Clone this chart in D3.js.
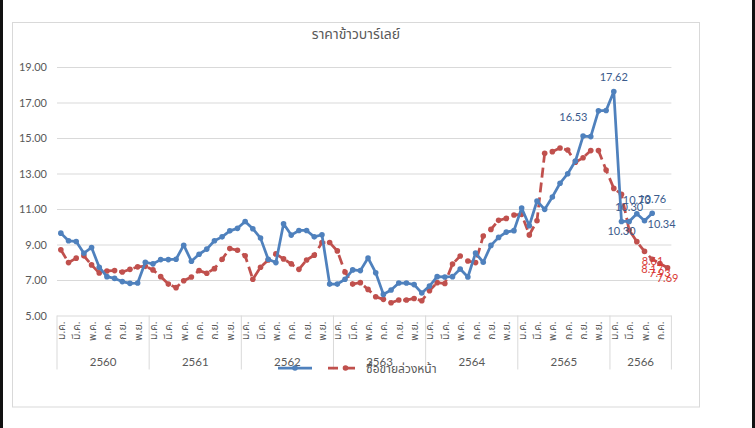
<!DOCTYPE html>
<html>
<head>
<meta charset="utf-8">
<script src="https://cdn.jsdelivr.net/npm/d3@7"></script>
<style>
  html, body { margin: 0; padding: 0; background: #fff; }
  svg { display: block; }
  .thai { font-family: "Noto Sans Thai", "Noto Sans Thai UI", "Leelawadee UI", Tahoma, "DejaVu Sans", sans-serif; }
  .num { font-family: Lato, "Open Sans", sans-serif; }
</style>
</head>
<body>
<div id="chart"></div>
<script>
// ราคาข้าวบาร์เลย์: ราคาจริง (เส้นน้ำเงิน) กับราคาซื้อขายล่วงหน้า (เส้นประแดง)
const years = ["2560", "2561", "2562", "2563", "2564", "2565", "2566"];
const monthsPerYear = [12, 12, 12, 12, 12, 12, 8];
const monthNames = ["ม.ค.", "ก.พ.", "มี.ค.", "เม.ย.", "พ.ค.", "มิ.ย.", "ก.ค.", "ส.ค.", "ก.ย.", "ต.ค.", "พ.ย.", "ธ.ค."];
const yTicks = [5, 7, 9, 11, 13, 15, 17, 19];

const spotPrice = [
  9.64, 9.21, 9.17, 8.51, 8.83, 7.72, 7.19, 7.09, 6.91, 6.81, 6.83, 8.00,
  7.91, 8.15, 8.15, 8.17, 8.96, 8.06, 8.45, 8.74, 9.21, 9.43, 9.77, 9.91,
  10.30, 9.89, 9.36, 8.17, 7.98, 10.17, 9.53, 9.79, 9.79, 9.43, 9.55, 6.77,
  6.77, 7.04, 7.57, 7.53, 8.24, 7.41, 6.19, 6.44, 6.83, 6.83, 6.74, 6.27,
  6.66, 7.19, 7.17, 7.19, 7.62, 7.17, 8.52, 8.00, 8.95, 9.40, 9.70, 9.78,
  11.06, 10.06, 11.45, 10.98, 11.68, 12.45, 12.99, 13.70, 15.11, 15.08, 16.53, 16.55,
  17.62, 10.30, 10.30, 10.73, 10.34, 10.76, null, null
];
const futuresPrice = [
  8.70, 7.98, 8.23, 8.36, 7.85, 7.40, 7.51, 7.53, 7.45, 7.60, 7.74, 7.77,
  7.57, 7.19, 6.77, 6.57, 6.96, 7.17, 7.53, 7.38, 7.64, 8.17, 8.77, 8.68,
  8.36, 7.04, 7.72, 8.13, 8.47, 8.19, 7.91, 7.60, 8.13, 8.40, 9.11, 9.11,
  8.64, 7.45, 6.77, 6.85, 6.47, 6.06, 5.91, 5.72, 5.87, 5.87, 5.96, 5.83,
  6.40, 6.85, 6.80, 7.90, 8.35, 8.07, 7.98, 9.48, 9.85, 10.36, 10.47, 10.66,
  10.70, 9.54, 10.34, 14.14, 14.23, 14.44, 14.32, 13.63, 13.89, 14.29, 14.29, 13.20,
  12.16, 11.83, 9.82, 9.16, 8.61, 8.17, 7.93, 7.69
];

// ป้ายค่าที่แสดงบนกราฟ (index ของเดือน) + ตำแหน่งป้าย
const spotLabelIdx = [70, 72, 73, 74, 75, 76, 77];
const spotLabelPos = ["left", "above", "below", "above", "above", "right", "above"];
const futLabelIdx = [76, 77, 78, 79];
const futLabelPos = ["rightbelow", "below", "below", "below"];

const BLUE = "#4f81bd";
const RED = "#c0504d";
const GRID = "#d9d9d9";
const TXT = "#595959";

const W = 755, H = 428;
const plot = { left: 57, right: 671.4, top: 67, bottom: 315.5 };

// Kategorien aufbauen
const cats = [];
years.forEach((y, yi) => {
  for (let m = 0; m < monthsPerYear[yi]; m++) cats.push({ key: y + "-" + m, year: y, m: m });
});

const svg = d3.select("#chart").append("svg").attr("width", W).attr("height", H);

// Rahmen der Seite
svg.append("rect").attr("x", 0).attr("y", 0).attr("width", 3).attr("height", H).attr("fill", "#111");
svg.append("rect").attr("x", 752).attr("y", 0).attr("width", 3).attr("height", H).attr("fill", "#111");
svg.append("rect").attr("x", 12.5).attr("y", 22.5).attr("width", 687).attr("height", 384.5)
  .attr("fill", "#fff").attr("stroke", GRID).attr("stroke-width", 1);

svg.append("text").attr("class", "thai")
  .attr("x", 356).attr("y", 39).attr("text-anchor", "middle")
  .attr("font-size", 14).attr("fill", TXT)
  .text("ราคาข้าวบาร์เลย์");

const x = d3.scaleBand().domain(cats.map(c => c.key)).range([plot.left, plot.right]);
const y = d3.scaleLinear().domain([5, 19]).range([plot.bottom, plot.top]);
const cx = k => x(k) + x.bandwidth() / 2;

// Gitterlinien + y-Achse
const yAxis = d3.axisLeft(y).tickValues(yTicks).tickFormat(d3.format(".2f"))
  .tickSize(-(plot.right - plot.left)).tickPadding(10);
const gy = svg.append("g").attr("transform", `translate(${plot.left},0)`).call(yAxis);
gy.select(".domain").remove();
gy.selectAll(".tick line").attr("stroke", GRID).attr("stroke-width", 1);
gy.selectAll(".tick text").attr("class", "num").attr("fill", TXT).attr("font-size", 11);

// x-Achse: Monate (jeder zweite) + Jahre
const gx = svg.append("g").attr("transform", `translate(0,${plot.bottom})`);
const yearStart = [];
let acc = 0;
monthsPerYear.forEach(n => { yearStart.push(acc); acc += n; });
const bounds = yearStart.map(s => x(cats[s].key)).concat([plot.right]);
gx.selectAll("line.sep").data(bounds).join("line")
  .attr("x1", d => d).attr("x2", d => d).attr("y1", 0).attr("y2", 54)
  .attr("stroke", GRID);

gx.selectAll("text.month").data(cats.filter(c => c.m % 2 === 0)).join("text")
  .attr("class", "thai")
  .attr("transform", d => `translate(${cx(d.key) + 4},6) rotate(-90)`)
  .attr("text-anchor", "end").attr("font-size", 10.5).attr("fill", TXT)
  .text(d => monthNames[d.m]);

gx.selectAll("text.year").data(years).join("text")
  .attr("class", "num")
  .attr("x", (d, i) => (bounds[i] + bounds[i + 1]) / 2).attr("y", 50)
  .attr("text-anchor", "middle").attr("font-size", 11.5).attr("fill", TXT)
  .text(d => d);

// Linien
const line = d3.line().defined(d => d.v != null).x(d => cx(d.k)).y(d => y(d.v));
const spot = cats.map((c, i) => ({ k: c.key, v: spotPrice[i] }));
const fut = cats.map((c, i) => ({ k: c.key, v: futuresPrice[i] }));

svg.append("path").datum(fut).attr("d", line).attr("fill", "none")
  .attr("stroke", RED).attr("stroke-width", 2.75).attr("stroke-dasharray", "10,5");
svg.append("g").selectAll("circle").data(fut.filter(d => d.v != null)).join("circle")
  .attr("cx", d => cx(d.k)).attr("cy", d => y(d.v)).attr("r", 2.8).attr("fill", RED);

svg.append("path").datum(spot).attr("d", line).attr("fill", "none")
  .attr("stroke", BLUE).attr("stroke-width", 2.75).attr("stroke-linejoin", "round");
svg.append("g").selectAll("circle").data(spot.filter(d => d.v != null)).join("circle")
  .attr("cx", d => cx(d.k)).attr("cy", d => y(d.v)).attr("r", 2.8).attr("fill", BLUE);

// Datenlabels
const offsets = {
  above: { dx: 0, dy: -10, a: "middle" },
  below: { dx: 0, dy: 14, a: "middle" },
  left: { dx: -11, dy: 10, a: "end" },
  right: { dx: 3, dy: 7, a: "start" },
  rightbelow: { dx: 8, dy: 14, a: "middle" }
};
function labels(series, idx, pos, color) {
  svg.append("g").selectAll("text").data(idx).join("text")
    .attr("class", "num")
    .attr("x", (d, i) => cx(series[d].k) + offsets[pos[i]].dx)
    .attr("y", (d, i) => y(series[d].v) + offsets[pos[i]].dy)
    .attr("text-anchor", (d, i) => offsets[pos[i]].a)
    .attr("font-size", 11).attr("fill", color)
    .text(d => series[d].v.toFixed(2));
}
labels(spot, spotLabelIdx, spotLabelPos, "#3b5b8c");
labels(fut, futLabelIdx, futLabelPos, "#d93a36");

// Legende
const lg = svg.append("g").attr("transform", "translate(0,368)");
lg.append("line").attr("x1", 278).attr("x2", 312).attr("stroke", BLUE).attr("stroke-width", 2.75);
lg.append("circle").attr("cx", 295).attr("r", 2.8).attr("fill", BLUE);
lg.append("line").attr("x1", 328).attr("x2", 361).attr("stroke", RED).attr("stroke-width", 2.75)
  .attr("stroke-dasharray", "10,7");
lg.append("circle").attr("cx", 345.5).attr("r", 2.8).attr("fill", RED);
lg.append("text").attr("class", "thai").attr("x", 366).attr("y", 4.5)
  .attr("font-size", 12).attr("fill", TXT).text("ซื้อขายล่วงหน้า");
</script>
</body>
</html>
